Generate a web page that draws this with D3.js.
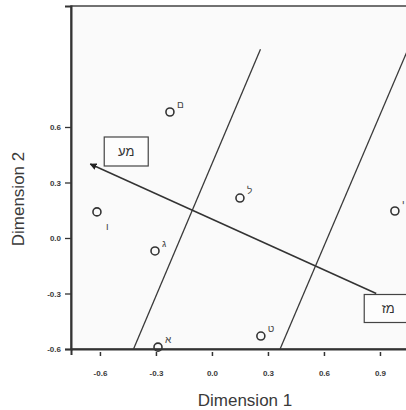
<!DOCTYPE html>
<html>
<head>
<meta charset="utf-8">
<script src="https://cdn.jsdelivr.net/npm/d3@7"></script>
<style>
  body { margin: 0; background: #fff; }
  text { font-family: "Liberation Sans", Arial, sans-serif; }
</style>
</head>
<body>
<svg id="chart"></svg>
<script>
// object coordinates
const pointLabels = ['ם', 'ל', 'ו', 'ג', 'א', 'ט', 'י'];
const dim1 = [-0.225, 0.15, -0.616, -0.305, -0.289, 0.262, 0.98];
const dim2 = [0.681, 0.216, 0.141, -0.07, -0.59, -0.53, 0.146];

// isolines (parallel) as [x1, y1, x2, y2]
const isoLines = [
  [-0.42, -0.6, 0.26, 1.02],
  [0.365, -0.6, 1.05, 1.02]
];

// property vector: tail -> head
const vecTail = [0.88, -0.30];
const vecHead = [-0.652, 0.40];
const vecTailLabel = 'מז';
const vecHeadLabel = 'מע';

const xTicks = [-0.6, -0.3, 0.0, 0.3, 0.6, 0.9];
const yTicks = [-0.6, -0.3, 0.0, 0.3, 0.6];

const width = 406, height = 410;
const svg = d3.select('#chart').attr('width', width).attr('height', height);

const x = d3.scaleLinear().domain([-0.755, 1.10]).range([71, 417.3]);
const y = d3.scaleLinear().domain([-0.6, 1.254]).range([349, 6]);

const ink = '#333';
const fmt = d => d3.format('.1f')(d).replace('−', '-');

// plot background + frame
svg.append('rect')
  .attr('x', x.range()[0]).attr('y', y.range()[1])
  .attr('width', x.range()[1] - x.range()[0])
  .attr('height', y.range()[0] - y.range()[1])
  .attr('fill', '#fafafa')
  .attr('stroke', '#444')
  .attr('stroke-width', 1.5);

// y axis
let yAxis = d3.axisLeft(y).tickValues(yTicks).tickSize(6).tickFormat(fmt);
let gy = svg.append('g').attr('transform', `translate(${x.range()[0]},0)`).call(yAxis);
gy.select('.domain').attr('stroke', ink).attr('stroke-width', 2);
gy.selectAll('.tick line').attr('stroke', ink).attr('stroke-width', 1.3);
gy.selectAll('.tick text')
  .attr('font-size', 8).attr('font-weight', 'bold').attr('fill', '#3a3a3a').attr('x', -10);

// x axis
let xAxis = d3.axisBottom(x).tickValues(xTicks).tickSize(6).tickFormat(fmt);
let gx = svg.append('g').attr('transform', `translate(0,${y.range()[0]})`).call(xAxis);
gx.select('.domain').attr('stroke', ink).attr('stroke-width', 2);
gx.selectAll('.tick line').attr('stroke', ink).attr('stroke-width', 1.5).attr('y1', 3).attr('y2', 7);
gx.selectAll('.tick text')
  .attr('font-size', 8).attr('font-weight', 'bold').attr('fill', '#3a3a3a').attr('y', 21);

// axis titles
svg.append('text')
  .attr('x', 245).attr('y', 406)
  .attr('text-anchor', 'middle')
  .attr('font-size', 17).attr('fill', '#3a3a3a')
  .text('Dimension 1');

svg.append('text')
  .attr('transform', 'translate(24,199) rotate(-90)')
  .attr('text-anchor', 'middle')
  .attr('font-size', 17).attr('fill', '#3a3a3a')
  .text('Dimension 2');

// isolines
svg.append('g').selectAll('line')
  .data(isoLines)
  .enter().append('line')
  .attr('x1', d => x(d[0])).attr('y1', d => y(d[1]))
  .attr('x2', d => x(d[2])).attr('y2', d => y(d[3]))
  .attr('stroke', '#3a3a3a')
  .attr('stroke-width', 1.3);

// arrow
svg.append('defs').append('marker')
  .attr('id', 'head')
  .attr('viewBox', '0 0 10 10')
  .attr('refX', 9).attr('refY', 5)
  .attr('markerWidth', 7).attr('markerHeight', 7)
  .attr('markerUnits', 'userSpaceOnUse')
  .attr('orient', 'auto')
  .append('path').attr('d', 'M0,0 L10,5 L0,10 z').attr('fill', '#222');

svg.append('line')
  .attr('x1', x(vecTail[0])).attr('y1', y(vecTail[1]))
  .attr('x2', x(vecHead[0])).attr('y2', y(vecHead[1]))
  .attr('stroke', '#333')
  .attr('stroke-width', 1.5)
  .attr('marker-end', 'url(#head)');

// label boxes at the vector ends
function labelBox(px, py, w, h, tx, label) {
  svg.append('rect')
    .attr('x', px).attr('y', py).attr('width', w).attr('height', h)
    .attr('fill', '#fdfdfd').attr('stroke', '#444').attr('stroke-width', 1.2);
  svg.append('text')
    .attr('x', px + tx).attr('y', py + h / 2 + 4.5)
    .attr('text-anchor', 'middle')
    .attr('font-size', 13).attr('fill', '#333')
    .attr('direction', 'rtl')
    .text(label);
}
labelBox(x(vecHead[0]) + 14, y(vecHead[1]) - 27, 44, 29, 22, vecHeadLabel);
labelBox(x(vecTail[0]) - 12, y(vecTail[1]) + 1, 60, 28, 24, vecTailLabel);

// points
const pts = pointLabels.map((l, i) => ({ label: l, d1: dim1[i], d2: dim2[i] }));

let g = svg.append('g');
g.selectAll('circle')
  .data(pts)
  .enter().append('circle')
  .attr('cx', d => x(d.d1))
  .attr('cy', d => y(d.d2))
  .attr('r', 4)
  .attr('fill', 'none')
  .attr('stroke', '#333')
  .attr('stroke-width', 1.6);

g.selectAll('text')
  .data(pts)
  .enter().append('text')
  .attr('x', d => x(d.d1) + (d.label === 'ו' ? 9 : 7))
  .attr('y', d => y(d.d2) + (d.label === 'ו' ? 18 : -4))
  .attr('font-size', 10)
  .attr('fill', '#444')
  .text(d => d.label);
</script>
</body>
</html>
